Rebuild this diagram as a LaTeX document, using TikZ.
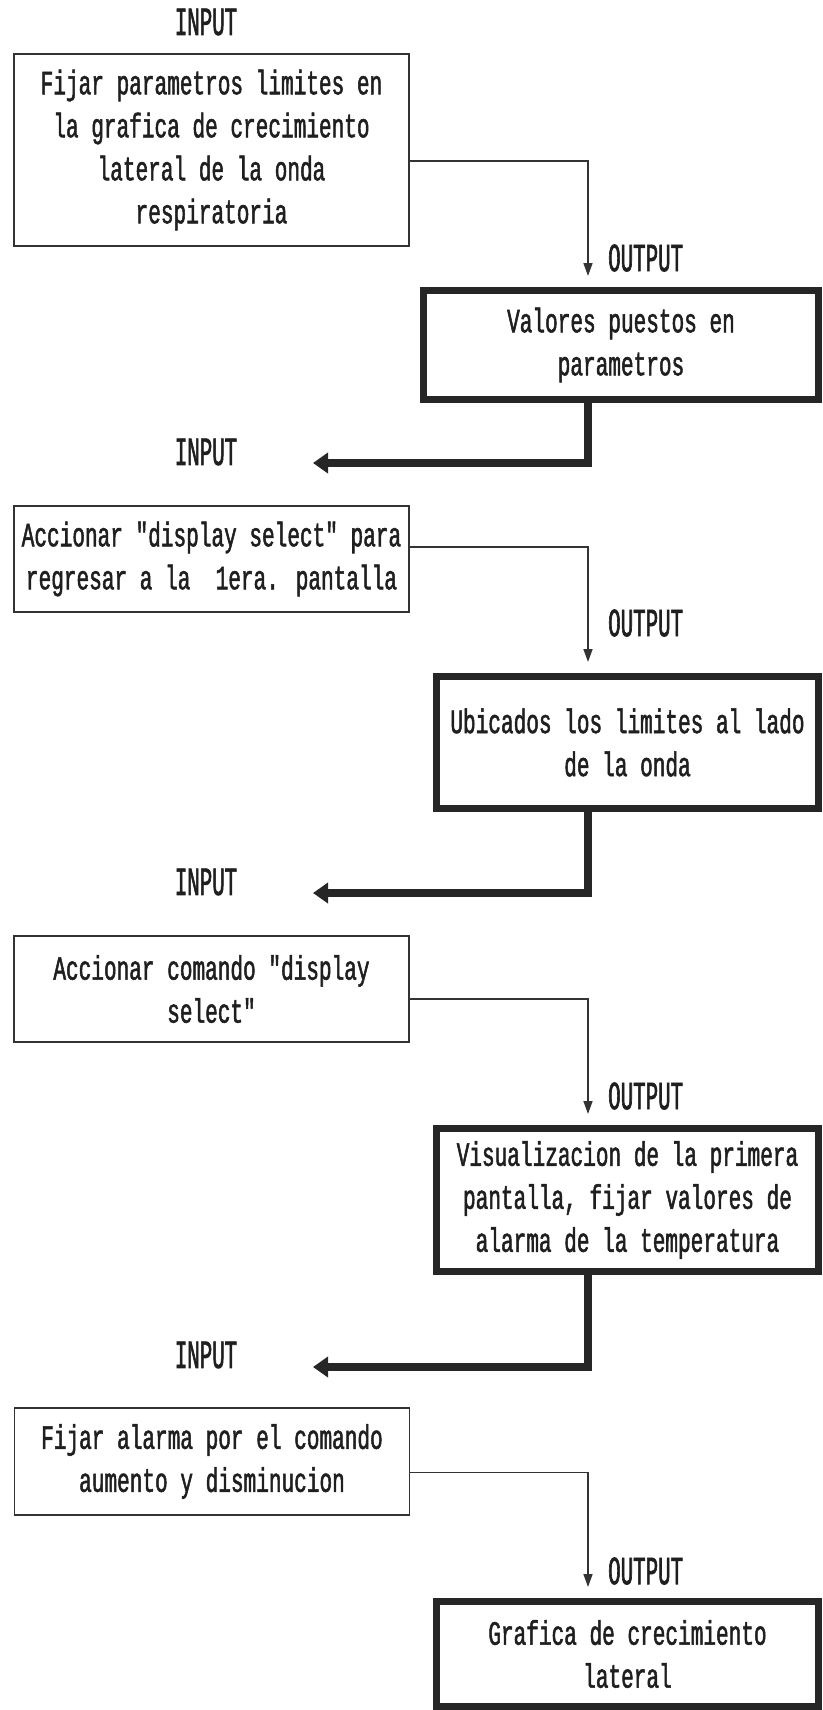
\documentclass[tikz,border=0pt]{standalone}
\usepackage{fontspec}
\usetikzlibrary{arrows.meta}
\newfontfamily\boxfont[FakeStretch=0.62,FakeBold=1.5]{Liberation Mono}
\newfontfamily\tagfont[FakeStretch=0.52,FakeBold=1.5]{Liberation Mono}

\begin{document}
\begin{tikzpicture}[
  x=1pt, y=-1pt,
  inbox/.style={draw=black!80, line width=1.6pt, align=center, inner sep=0pt,
    minimum width=395pt, text=black!88,
    font=\boxfont\fontsize{34}{43}\selectfont},
  outbox/.style={inbox, draw=black!85, line width=7pt, minimum width=382pt},
  tag/.style={inner sep=0pt, text=black!88, font=\tagfont\fontsize{40}{44}\selectfont},
  linkarrow/.style={-{Triangle[length=13pt,width=9pt]}, line width=1.6pt,
    draw=black!80, shorten >=11pt},
  backarrow/.style={-{Triangle[length=15pt,width=20pt]}, line width=8pt,
    draw=black!85}
]
\useasboundingbox (0,0) rectangle (822,1710);
\coordinate (col) at (588,0);

% entradas (izquierda)
\node[tag] (in0tag) at (206,22) {INPUT};
\node[inbox, minimum height=192pt] (in1) at (211.5,150)
  {Fijar parametros limites en\\la grafica de crecimiento\\lateral de la onda\\respiratoria};
\node[tag] (in1tag) at (206,452) {INPUT};
\node[inbox, minimum height=106pt] (in2) at (211.5,559)
  {Accionar "display select" para\\regresar a la\ \ 1era. pantalla};
\node[tag] (in2tag) at (206,882) {INPUT};
\node[inbox, minimum height=106pt] (in3) at (211.5,989)
  {Accionar comando "display\\select"};
\node[tag] (in3tag) at (206,1355) {INPUT};
\node[inbox, minimum height=107pt] (in4) at (212,1461.5)
  {Fijar alarma por el comando\\aumento y disminucion};

% salidas (derecha)
\node[tag, anchor=west] (out1tag) at (608,258) {OUTPUT};
\node[outbox, minimum width=395pt, minimum height=109pt] (out1) at (621,345)
  {Valores puestos en\\parametros};
\node[tag, anchor=west] (out2tag) at (608,623) {OUTPUT};
\node[outbox, minimum height=132pt] (out2) at (627.5,742.5)
  {Ubicados los limites al lado\\de la onda};
\node[tag, anchor=west] (out3tag) at (608,1096) {OUTPUT};
\node[outbox, minimum height=143pt] (out3) at (627.5,1200)
  {Visualizacion de la primera\\pantalla, fijar valores de\\alarma de la temperatura};
\node[tag, anchor=west] (out4tag) at (608,1571) {OUTPUT};
\node[outbox, minimum height=105pt] (out4) at (627.5,1654)
  {Grafica de crecimiento\\lateral};

% puntas de las flechas de regreso
\coordinate (back1) at (313,463);
\coordinate (back2) at (313,893);
\coordinate (back3) at (313,1367);

\draw[linkarrow] ([yshift=-11pt]in1.east) -| (col |- out1.north);
\draw[linkarrow] ([yshift=12pt]in2.east) -| (col |- out2.north);
\draw[linkarrow] ([yshift=-10pt]in3.east) -| (col |- out3.north);
\draw[linkarrow] ([yshift=-11pt]in4.east) -| (col |- out4.north);

\draw[backarrow] (col |- out1.south) |- (back1);
\draw[backarrow] (col |- out2.south) |- (back2);
\draw[backarrow] (col |- out3.south) |- (back3);
\end{tikzpicture}
\end{document}
